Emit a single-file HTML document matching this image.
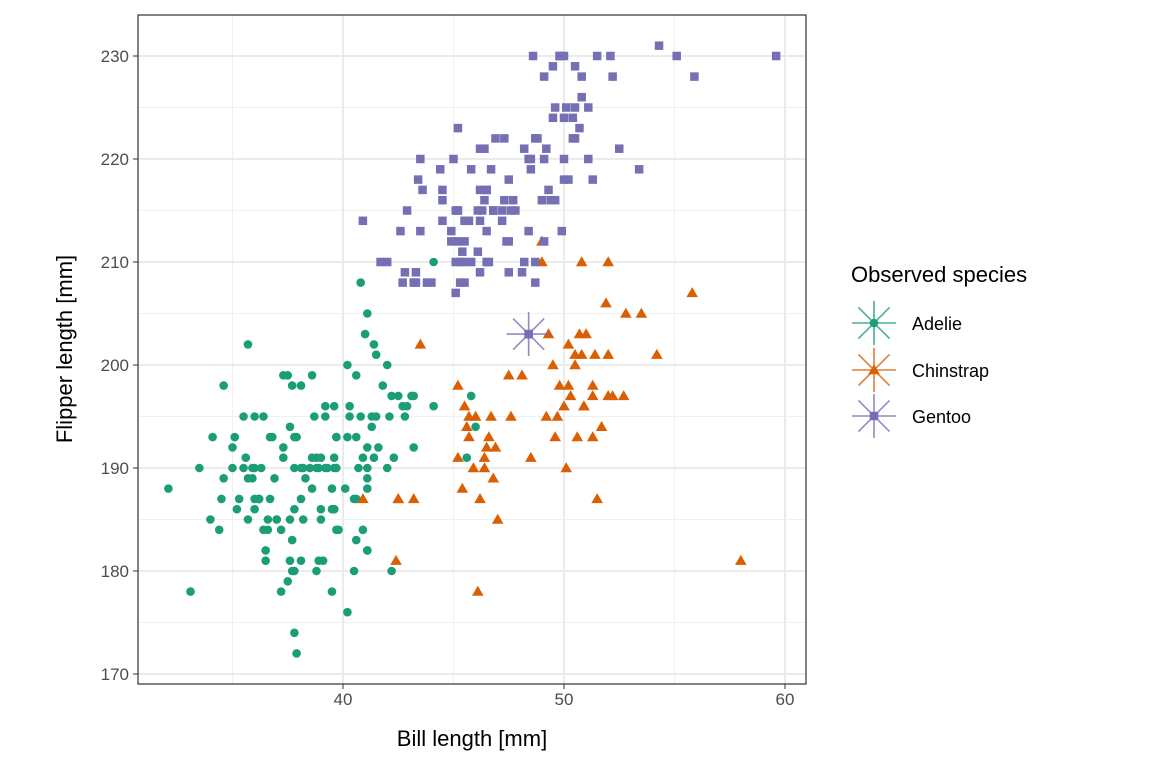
<!DOCTYPE html>
<html><head><meta charset="utf-8"><style>
body{margin:0;background:#fff;}
svg{display:block;font-family:"Liberation Sans",sans-serif;}
</style></head><body>
<svg id="c" width="1152" height="768"></svg>
<script>
const adelieX=[39.1,39.5,40.3,36.7,39.3,38.9,39.2,34.1,42,37.8,37.8,41.1,38.6,34.6,36.6,38.7,42.5,34.4,46,37.8,37.7,35.9,38.2,38.8,35.3,40.6,40.5,37.9,40.5,39.5,37.2,39.5,40.9,36.4,39.2,38.8,42.2,37.6,39.8,36.5,40.8,36,44.1,37,39.6,41.1,37.5,36,42.3,39.6,40.1,35,42,34.5,41.4,39,40.6,36.5,37.6,35.7,41.3,37.6,41.1,36.4,41.6,35.5,41.1,35.9,41.8,33.5,39.7,39.6,45.8,35.5,42.8,40.9,37.2,36.2,42.1,34.6,42.9,36.7,35.1,37.3,41.3,36.3,36.9,38.3,38.9,35.7,41.1,34,39.6,36.2,40.8,38.1,40.3,33.1,43.2,35,41,37.7,37.8,37.9,39.7,38.6,38.2,38.1,43.2,38.1,45.6,39.7,42.2,39.6,42.7,38.6,37.3,35.7,41.1,36.2,37.7,40.2,41.4,35.2,40.6,38.8,41.5,39,44.1,38.5,43.1,36.8,37.5,38.1,41.1,35.6,40.2,37,39.7,40.2,40.6,32.1,40.7,37.3,39,39.2,36.6,36,37.8,36,41.5];
const adelieY=[181,186,195,193,190,181,195,193,190,186,180,182,191,198,185,195,197,184,194,174,180,189,185,180,187,183,187,172,180,178,178,188,184,195,196,190,180,181,184,182,195,186,196,185,190,182,179,190,191,186,188,190,200,187,191,186,193,181,194,185,195,185,192,184,192,195,188,190,198,190,190,196,197,190,195,191,184,187,195,189,196,187,193,191,194,190,189,189,190,202,205,185,186,187,208,190,196,178,192,192,203,183,190,193,184,199,190,181,197,198,191,193,197,191,196,188,199,189,189,187,198,176,202,186,199,191,195,191,210,190,197,193,199,187,190,191,200,185,193,193,187,188,190,192,185,190,184,195,193,187,201];
const chinX=[46.5,50,51.3,45.4,52.7,45.2,46.1,51.3,46,51.3,46.6,51.7,47,52,45.9,50.5,50.3,58,46.4,49.2,42.4,48.5,43.2,50.6,46.7,52,50.5,49.5,46.4,52.8,40.9,54.2,42.5,51,49.7,47.5,47.6,52,46.9,53.5,49,46.2,50.9,45.5,50.9,50.8,50.1,49,51.5,49.8,48.1,51.4,45.7,50.7,42.5,52.2,45.2,49.3,50.2,45.6,51.9,46.8,45.7,55.8,43.5,49.6,50.8,50.2];
const chinY=[192,196,193,188,197,198,178,197,195,198,193,194,185,201,190,201,197,181,190,195,181,191,187,193,195,197,200,200,191,205,187,201,187,203,195,199,195,210,192,205,210,187,196,196,196,201,190,212,187,198,199,201,193,203,187,197,191,203,202,194,206,189,195,207,202,193,210,198];
const gentX=[46.1,50,48.7,50,47.6,46.5,45.4,46.7,43.3,46.8,40.9,49,45.5,48.4,45.8,49.3,42,49.2,46.2,48.7,50.2,45.1,46.5,46.3,42.9,46.1,44.5,47.8,48.2,50,47.3,42.8,45.1,59.6,49.1,48.4,42.6,44.4,44,48.7,42.7,49.6,45.3,49.6,50.5,43.6,45.5,50.5,44.9,45.2,46.6,48.5,45.1,50.1,46.5,45,43.8,45.5,43.2,50.4,45.3,46.2,45.7,54.3,45.8,49.8,46.2,49.5,43.5,50.7,47.7,46.4,48.2,46.5,46.4,48.6,47.5,51.1,45.2,45.2,49.1,52.5,47.4,50,44.9,50.8,43.4,51.3,47.5,52.1,47.5,52.2,45.5,49.5,44.5,50.8,49.4,46.9,48.4,51.1,48.5,55.9,47.2,49.1,47.3,46.8,41.7,53.4,43.3,48.1,50.5,49.8,43.5,51.5,46.2,55.1,44.5,48.8,47.2,46.8,50.4,45.2,49.9];
const gentY=[211,230,210,218,215,210,211,219,209,215,214,216,214,213,210,217,210,221,209,222,218,215,213,215,215,215,216,215,210,220,222,209,207,230,220,220,213,219,208,208,208,225,210,216,222,217,210,225,213,215,210,220,210,225,217,220,208,208,208,224,208,221,214,231,219,230,214,229,220,223,216,221,221,217,216,230,209,220,215,223,212,221,212,224,212,228,218,218,212,230,218,228,212,224,214,226,216,222,203,225,219,228,215,228,216,215,210,219,208,209,229,230,213,230,217,230,217,222,214,215,222,212,213];
const xTicks=[40,50,60];
const yTicks=[170,180,190,200,210,220,230];
const highlightX=[48.4], highlightY=[203];
const species=["Adelie","Chinstrap","Gentoo"];

const NS="http://www.w3.org/2000/svg";
const svg=document.getElementById('c');
const L=138,R=806,T=15,B=684;
const sx=v=>343+(v-40)*22.1;
const sy=v=>56+(230-v)*10.3;
function el(tag,a,p){const e=document.createElementNS(NS,tag);for(const k in a)e.setAttribute(k,a[k]);(p||svg).appendChild(e);return e;}
const cols=["#1B9E77","#D95F02","#7570B3"];
for(const v of [35,45,55]){const g=el('line',{x1:sx(v),x2:sx(v),y1:T,y2:B,stroke:'#f0f0f0','stroke-width':1});
}
for(const v of [175,185,195,205,215,225]){const g=el('line',{x1:L,x2:R,y1:sy(v),y2:sy(v),stroke:'#f0f0f0','stroke-width':1});
}
for(const v of xTicks){const g=el('line',{x1:sx(v),x2:sx(v),y1:T,y2:B,stroke:'#ebebeb','stroke-width':2});

const t=el('line',{x1:sx(v),x2:sx(v),y1:B,y2:B+5,stroke:'#333','stroke-width':1});

const l=el('text',{x:sx(v),y:B+15+6,'text-anchor':'middle','font-size':17,fill:'#4d4d4d'});l.textContent=v;
}
for(const v of yTicks){const g=el('line',{x1:L,x2:R,y1:sy(v),y2:sy(v),stroke:'#ebebeb','stroke-width':2});

const t=el('line',{x1:L-5,x2:L,y1:sy(v),y2:sy(v),stroke:'#333','stroke-width':1});

const l=el('text',{x:L-9,y:sy(v)+6,'text-anchor':'end','font-size':17,fill:'#4d4d4d'});l.textContent=v;
}
function mark(kind,x,y,c,p){
 if(kind===0)return el('circle',{cx:x,cy:y,r:4.3,fill:c},p);
 if(kind===1)return el('polygon',{points:`${x},${y-5.8} ${x+5.8},${y+4.2} ${x-5.8},${y+4.2}`,fill:c},p);
 return el('rect',{x:x-4.25,y:y-4.25,width:8.5,height:8.5,fill:c},p);
}
function star(x,y,c,p){for(let i=0;i<4;i++){const a=i*Math.PI/4,r=22;
 el('line',{x1:x-r*Math.cos(a),y1:y-r*Math.sin(a),x2:x+r*Math.cos(a),y2:y+r*Math.sin(a),stroke:c,'stroke-width':1.6,opacity:0.8},p);}}
const series=[[adelieX,adelieY],[chinX,chinY],[gentX,gentY]];
series.forEach((s,k)=>{const g=el('g',{});

s[0].forEach((v,i)=>{const m=mark(k,sx(v),sy(s[1][i]),cols[k],g);
});});
const hg=el('g',{});
star(sx(highlightX[0]),sy(highlightY[0]),cols[2],hg);mark(2,sx(highlightX[0]),sy(highlightY[0]),cols[2],hg);
const fr=el('rect',{x:L,y:T,width:R-L,height:B-T,fill:'none',stroke:'#333','stroke-width':1.2});

const xt=el('text',{x:472,y:746,'text-anchor':'middle','font-size':22,fill:'#000'});xt.textContent='Bill length [mm]';

const yt=el('text',{x:0,y:0,'text-anchor':'middle','font-size':22,fill:'#000',transform:'translate(72,349) rotate(-90)'});yt.textContent='Flipper length [mm]';

const lt=el('text',{x:851,y:282,'font-size':22,fill:'#000'});lt.textContent='Observed species';

[323,370,416].forEach((y,k)=>{const g=el('g',{});

star(874,y,cols[k],g);mark(k,874,y,cols[k],g);
const t=el('text',{x:912,y:y+7,'font-size':18,fill:'#000'},g);t.textContent=species[k];});
</script>
</body></html>
